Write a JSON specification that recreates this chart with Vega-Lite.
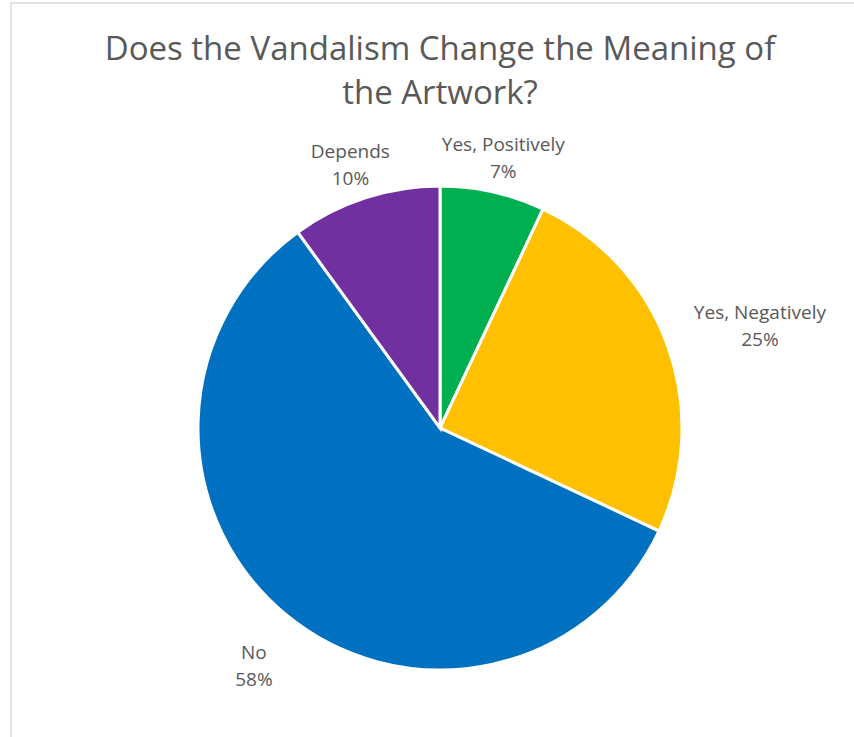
{
  "$schema": "https://vega.github.io/schema/vega-lite/v6.json",
  "width": 858,
  "height": 850,
  "autosize": {"type": "none"},
  "padding": {"left": 11, "top": 3, "right": 0, "bottom": 0},
  "background": "white",
  "view": {"stroke": "#d9d9d9", "strokeWidth": 1.5},
  "title": {
    "text": ["Does the Vandalism Change the Meaning of", "the Artwork?"],
    "orient": "top",
    "anchor": "middle",
    "baseline": "bottom",
    "offset": -141,
    "font": "Open Sans",
    "fontSize": 33,
    "fontWeight": "normal",
    "color": "#595959",
    "lineHeight": 44
  },
  "data": {
    "values": [
      {"category": "Yes, Positively", "value": 0.07, "order": 1},
      {"category": "Yes, Negatively", "value": 0.25, "order": 2},
      {"category": "No", "value": 0.58, "order": 3},
      {"category": "Depends", "value": 0.10, "order": 4}
    ]
  },
  "transform": [
    {"calculate": "datum.category + '\\n' + format(datum.value, '.0%')", "as": "label"}
  ],
  "encoding": {
    "theta": {"field": "value", "type": "quantitative", "stack": true},
    "order": {"field": "order", "type": "quantitative"}
  },
  "layer": [
    {
      "mark": {"type": "arc", "outerRadius": 242, "stroke": "white", "strokeWidth": 3},
      "encoding": {
        "color": {
          "field": "category",
          "type": "nominal",
          "scale": {
            "domain": ["Yes, Positively", "Yes, Negatively", "No", "Depends"],
            "range": ["#00B050", "#FFC000", "#0070C0", "#7030A0"]
          },
          "legend": null
        }
      }
    },
    {
      "mark": {"type": "text", "radius": 290, "lineBreak": "\n", "lineHeight": 27, "font": "Open Sans", "fontSize": 19, "color": "#595959", "align": "center", "baseline": "middle"},
      "encoding": {
        "text": {"field": "label", "type": "nominal"},
        "opacity": {
          "condition": {"test": "datum.category === 'Yes, Positively' || datum.category === 'Depends'", "value": 1},
          "value": 0
        }
      }
    },
    {
      "mark": {"type": "text", "radius": 340, "lineBreak": "\n", "lineHeight": 27, "font": "Open Sans", "fontSize": 19, "color": "#595959", "align": "center", "baseline": "middle"},
      "encoding": {
        "text": {"field": "label", "type": "nominal"},
        "opacity": {
          "condition": {"test": "datum.category === 'Yes, Negatively'", "value": 1},
          "value": 0
        }
      }
    },
    {
      "mark": {"type": "text", "radius": 292, "lineBreak": "\n", "lineHeight": 27, "font": "Open Sans", "fontSize": 19, "color": "#595959", "align": "center", "baseline": "middle"},
      "encoding": {
        "text": {"field": "label", "type": "nominal"},
        "opacity": {
          "condition": {"test": "datum.category === 'No'", "value": 1},
          "value": 0
        }
      }
    }
  ]
}
